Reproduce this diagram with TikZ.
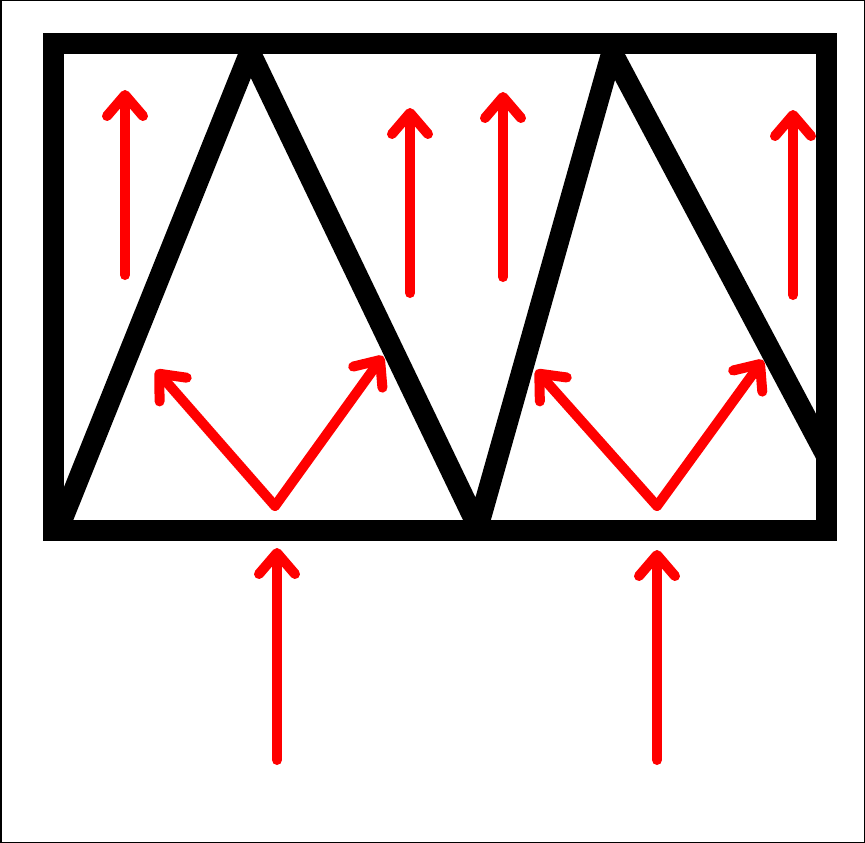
\documentclass[tikz,border=0pt]{standalone}
\usetikzlibrary{arrows.meta}
\begin{document}
\begin{tikzpicture}[x=1pt,y=-1pt,
  truss/.style={line width=21pt,line join=miter,line cap=butt},
  force/.style={red,line width=10pt,line cap=round,
    -{Straight Barb[length=21pt,width=36pt,round]}}]
\useasboundingbox (0,0) rectangle (865,843);
\fill[white] (0,0) rectangle (865,843);
\draw[line width=3pt] (0,0) rectangle (865,843);
% corners of the truss
\coordinate (BL) at (53,530);
\coordinate (TL) at (53,44);
\coordinate (TR) at (826,44);
\coordinate (BR) at (826,530);
\coordinate (A) at (250,52);
\coordinate (B) at (478,527);
\coordinate (C) at (612,52);
\coordinate (D) at (826,455);
\coordinate (E) at (60,525);
\draw[truss] (TL) rectangle (BR);
\draw[truss,line join=round] (E) -- (A) -- (B) -- (C) -- (D);
% red arrows above
\draw[force] (125,275) -- (125,90);
\draw[force] (410,293) -- (410,108);
\draw[force] (503,277) -- (503,92);
\draw[force] (793,295) -- (793,110);
% V arrows
\coordinate (V1) at (275,506);
\coordinate (V2) at (657,506);
\draw[force] (V1) -- (156,370);
\draw[force] (V1) -- (383,356);
\draw[force] (V2) -- (536,370);
\draw[force] (V2) -- (763,360);
% bottom arrows
\draw[force] (277,760) -- (277,548);
\draw[force] (657,760) -- (657,550);
\end{tikzpicture}
\end{document}
